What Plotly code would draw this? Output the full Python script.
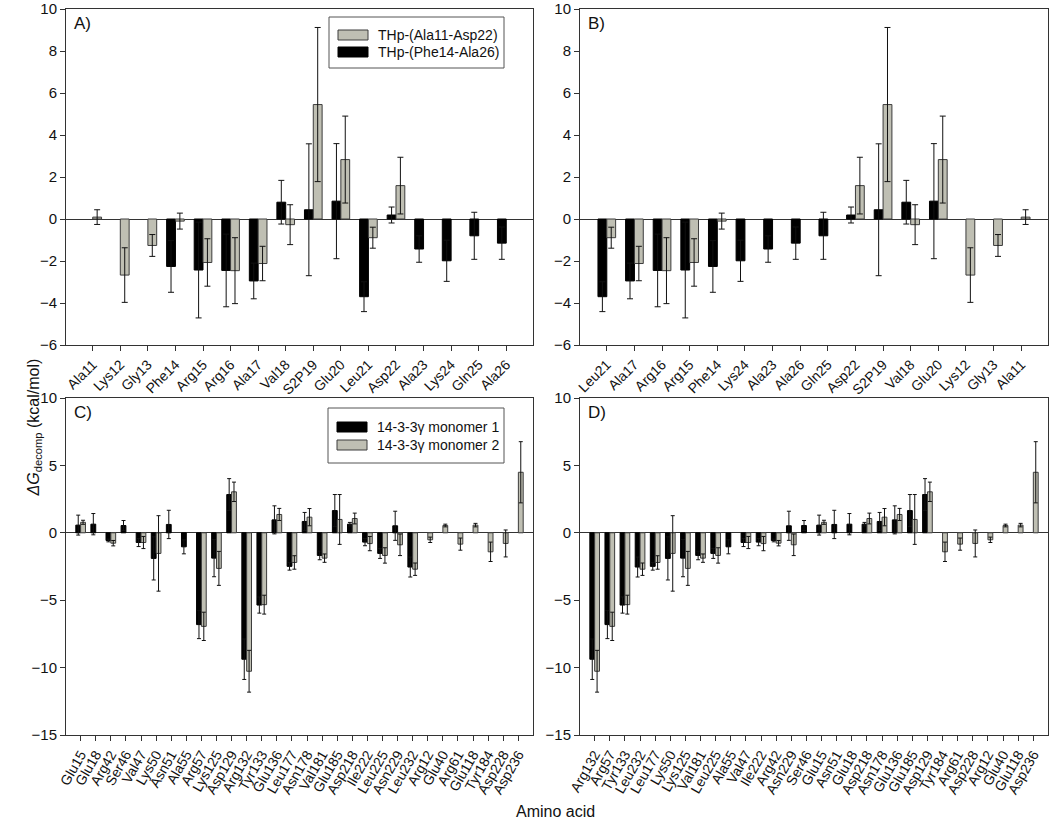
import plotly.graph_objects as go

# ---------------- Data ----------------
cats_A = ["Ala11", "Lys12", "Gly13", "Phe14", "Arg15", "Arg16", "Ala17", "Val18",
          "S2P19", "Glu20", "Leu21", "Asp22", "Ala23", "Lys24", "Gln25", "Ala26"]
phe_vals = [None, None, None, -2.26, -2.43, -2.45, -2.95, 0.80, 0.44, 0.85, -3.70, 0.19,
            -1.43, -1.99, -0.80, -1.15]
phe_err = [None, None, None, 1.23, 2.28, 1.73, 0.85, 1.04, 3.14, 2.74, 0.71, 0.38,
           0.63, 0.98, 1.12, 0.77]
ala_vals = [0.09, -2.67, -1.26, -0.10, -2.07, -2.46, -2.12, -0.27, 5.45, 2.83, -0.89, 1.59,
            None, None, None, None]
ala_err = [0.35, 1.30, 0.52, 0.38, 1.13, 1.57, 0.82, 0.95, 3.67, 2.07, 0.50, 1.35,
           None, None, None, None]

cats_B = ["Leu21", "Ala17", "Arg16", "Arg15", "Phe14", "Lys24", "Ala23", "Ala26", "Gln25",
          "Asp22", "S2P19", "Val18", "Glu20", "Lys12", "Gly13", "Ala11"]

cats_C = ["Glu15", "Glu18", "Arg42", "Ser46", "Val47", "Lys50", "Asn51", "Ala55", "Arg57",
          "Lys125", "Asp129", "Arg132", "Tyr133", "Glu136", "Leu177", "Asn178", "Val181",
          "Glu185", "Asp218", "Ile222", "Leu225", "Asn229", "Leu232", "Arg12", "Glu40",
          "Arg61", "Glu118", "Tyr184", "Asp228", "Asp236"]
m1_vals = [0.57, 0.64, -0.57, 0.54, -0.72, -1.90, 0.62, -1.04, -6.81, -1.88, 2.84, -9.38,
           -5.36, 0.96, -2.49, 0.84, -1.68, 1.65, 0.64, -0.69, -1.53, 0.52, -2.54,
           None, None, None, None, None, None, None]
m1_err = [0.74, 0.79, 0.10, 0.37, 0.30, 1.60, 1.05, 0.52, 1.04, 1.38, 1.18, 1.50,
          0.60, 1.04, 0.28, 0.67, 0.32, 1.19, 0.13, 0.27, 0.37, 1.08, 0.74,
          None, None, None, None, None, None, None]
m2_vals = [0.78, None, -0.77, None, -0.72, -1.53, None, None, -6.94, -2.64, 3.04, -10.27,
           -5.33, 1.36, -2.20, 1.16, -1.88, 0.99, 1.06, -0.80, -1.68, -0.89, -2.70,
           -0.52, 0.54, -0.84, 0.57, -1.41, -0.79, 4.49]
m2_err = [0.15, None, 0.20, None, 0.45, 2.80, None, None, 1.05, 1.26, 0.72, 1.55,
          0.70, 0.45, 0.50, 0.64, 0.31, 1.85, 0.40, 0.53, 0.57, 0.80, 0.46,
          0.20, 0.10, 0.45, 0.13, 0.72, 1.00, 2.27]

cats_D = ["Arg132", "Arg57", "Tyr133", "Leu232", "Leu177", "Lys50", "Lys125", "Val181",
          "Leu225", "Ala55", "Val47", "Ile222", "Arg42", "Asn229", "Ser46", "Glu15", "Asn51",
          "Glu18", "Asp218", "Asn178", "Glu136", "Glu185", "Asp129", "Tyr184", "Arg61",
          "Asp228", "Arg12", "Glu40", "Glu118", "Asp236"]

ticks_AB = [-6, -4, -2, 0, 2, 4, 6, 8, 10]
ticks_CD = [-15, -10, -5, 0, 5, 10]

# ---------------- Style ----------------
W, H = 1050, 835
FONT = "Liberation Sans, Arial, sans-serif"
GRAY = "#bfbfb3"
EDGE = "#3c3c3c"
AXC = "#333333"

def px(x):
    return min(1.0, max(0.0, x / W))

def py(y):
    return min(1.0, max(0.0, 1 - y / H))

def reorder(src_cats, vals, new_cats):
    d = dict(zip(src_cats, vals))
    return [d[c] for c in new_cats]

fig = go.Figure()

def add_pair(cats, v1, e1, c1, n1, v2, e2, c2, n2, xa, ya, capw):
    for v, e, c, n in [(v1, e1, c1, n1), (v2, e2, c2, n2)]:
        fig.add_trace(go.Bar(
            x=cats, y=v, name=n, xaxis=xa, yaxis=ya, showlegend=False,
            marker=dict(color=c, line=dict(color="#000000" if c == "#000000" else EDGE, width=1)),
            error_y=dict(type="data", array=e, visible=True, color="#111111",
                         thickness=1, width=capw)))

# Panel A
add_pair(cats_A, phe_vals, phe_err, "#000000", "THp-(Phe14-Ala26)",
         ala_vals, ala_err, GRAY, "THp-(Ala11-Asp22)", "x", "y", 3)
# Panel B
add_pair(cats_B, reorder(cats_A, phe_vals, cats_B), reorder(cats_A, phe_err, cats_B), "#000000",
         "THp-(Phe14-Ala26)",
         reorder(cats_A, ala_vals, cats_B), reorder(cats_A, ala_err, cats_B), GRAY,
         "THp-(Ala11-Asp22)", "x2", "y2", 3)
# Panel C
add_pair(cats_C, m1_vals, m1_err, "#000000", "14-3-3γ monomer 1",
         m2_vals, m2_err, GRAY, "14-3-3γ monomer 2", "x3", "y3", 2)
# Panel D
add_pair(cats_D, reorder(cats_C, m1_vals, cats_D), reorder(cats_C, m1_err, cats_D), "#000000",
         "14-3-3γ monomer 1",
         reorder(cats_C, m2_vals, cats_D), reorder(cats_C, m2_err, cats_D), GRAY,
         "14-3-3γ monomer 2", "x4", "y4", 2)

# Plot area pixel boxes (screen pixels)
boxA = (66, 533, 9, 345)
boxB = (580, 1048, 9, 345)
boxC = (66, 533, 398, 735)
boxD = (580, 1048, 398, 735)

def xaxis_cfg(box, cats, angle, anchor, fs):
    n = len(cats)
    return dict(domain=[px(box[0]), px(box[1])], anchor=anchor, type="category",
                range=[-0.97, n - 1 + 0.97], tickmode="array", tickvals=cats, ticktext=cats,
                showline=True, linecolor=AXC, linewidth=1,
                mirror=True, ticks="outside", ticklen=5, tickcolor=AXC, tickangle=angle,
                tickfont=dict(family=FONT, size=fs, color="#111"), showgrid=False,
                zeroline=False, fixedrange=True, automargin=False, ticklabeloverflow="allow")

def yaxis_cfg(box, rng, tv, anchor):
    return dict(domain=[py(box[3]), py(box[2])], anchor=anchor, range=rng,
                tickvals=tv, showline=True, linecolor=AXC, linewidth=1, mirror=True,
                ticks="outside", ticklen=5, tickcolor=AXC,
                tickfont=dict(family=FONT, size=15, color="#111"), showgrid=False,
                zeroline=True, zerolinecolor=AXC, zerolinewidth=1, fixedrange=True,
                automargin=False, ticklabeloverflow="allow")

fig.update_layout(
    template="none",
    width=W, height=H, margin=dict(l=0, r=0, t=0, b=0, pad=0), autosize=False,
    paper_bgcolor="white", plot_bgcolor="white",
    barmode="group", bargap=0.36, bargroupgap=0.0,
    font=dict(family=FONT, color="#111"),
    xaxis=xaxis_cfg(boxA, cats_A, -45, "y", 14),
    yaxis=yaxis_cfg(boxA, [-6, 10], ticks_AB, "x"),
    xaxis2=xaxis_cfg(boxB, cats_B, -45, "y2", 14),
    yaxis2=yaxis_cfg(boxB, [-6, 10], ticks_AB, "x2"),
    xaxis3=xaxis_cfg(boxC, cats_C, -60, "y3", 14),
    yaxis3=yaxis_cfg(boxC, [-15, 10], ticks_CD, "x3"),
    xaxis4=xaxis_cfg(boxD, cats_D, -60, "y4", 14),
    yaxis4=yaxis_cfg(boxD, [-15, 10], ticks_CD, "x4"),
)

ann = []
# Panel labels
for lab, box in [("A)", boxA), ("B)", boxB), ("C)", boxC), ("D)", boxD)]:
    ann.append(dict(text=lab, xref="paper", yref="paper", x=px(box[0] + 6), y=py(box[2] + 3),
                    xanchor="left", yanchor="top", showarrow=False,
                    font=dict(family=FONT, size=17, color="#111")))
# Axis titles
ann.append(dict(text="<i>ΔG</i><sub>decomp</sub> (kcal/mol)", xref="paper", yref="paper",
                x=px(22), y=py(428), textangle=-90, showarrow=False,
                font=dict(family=FONT, size=16, color="#111")))
ann.append(dict(text="Amino acid", xref="paper", yref="paper", x=px(555), y=py(822),
                showarrow=False, font=dict(family=FONT, size=16, color="#111")))

shapes = []
# Manual legends (decoration)
def legend(box, items):
    x0, x1, y0, y1 = box
    shapes.append(dict(type="rect", xref="paper", yref="paper", x0=px(x0), x1=px(x1),
                       y0=py(y1), y1=py(y0), line=dict(color="#555", width=1),
                       fillcolor="white"))
    for (label, color, yc) in items:
        shapes.append(dict(type="rect", xref="paper", yref="paper", x0=px(x0 + 9), x1=px(x0 + 39),
                           y0=py(yc + 5), y1=py(yc - 5),
                           line=dict(color="#000" if color == "#000000" else EDGE, width=1),
                           fillcolor=color))
        ann.append(dict(text=label, xref="paper", yref="paper", x=px(x0 + 47), y=py(yc),
                        xanchor="left", yanchor="middle", showarrow=False,
                        font=dict(family=FONT, size=14, color="#111")))

legend((329, 504, 17, 68), [("THp-(Ala11-Asp22)", GRAY, 35), ("THp-(Phe14-Ala26)", "#000000", 52)])
legend((328, 504, 408, 463), [("14-3-3γ monomer 1", "#000000", 427), ("14-3-3γ monomer 2", GRAY, 445)])

fig.update_layout(annotations=ann, shapes=shapes)

fig.write_html("out.html", config={"displayModeBar": False},
               post_script="document.body.style.margin='0';document.body.style.padding='0';"
                           "document.body.style.overflow='hidden';")
